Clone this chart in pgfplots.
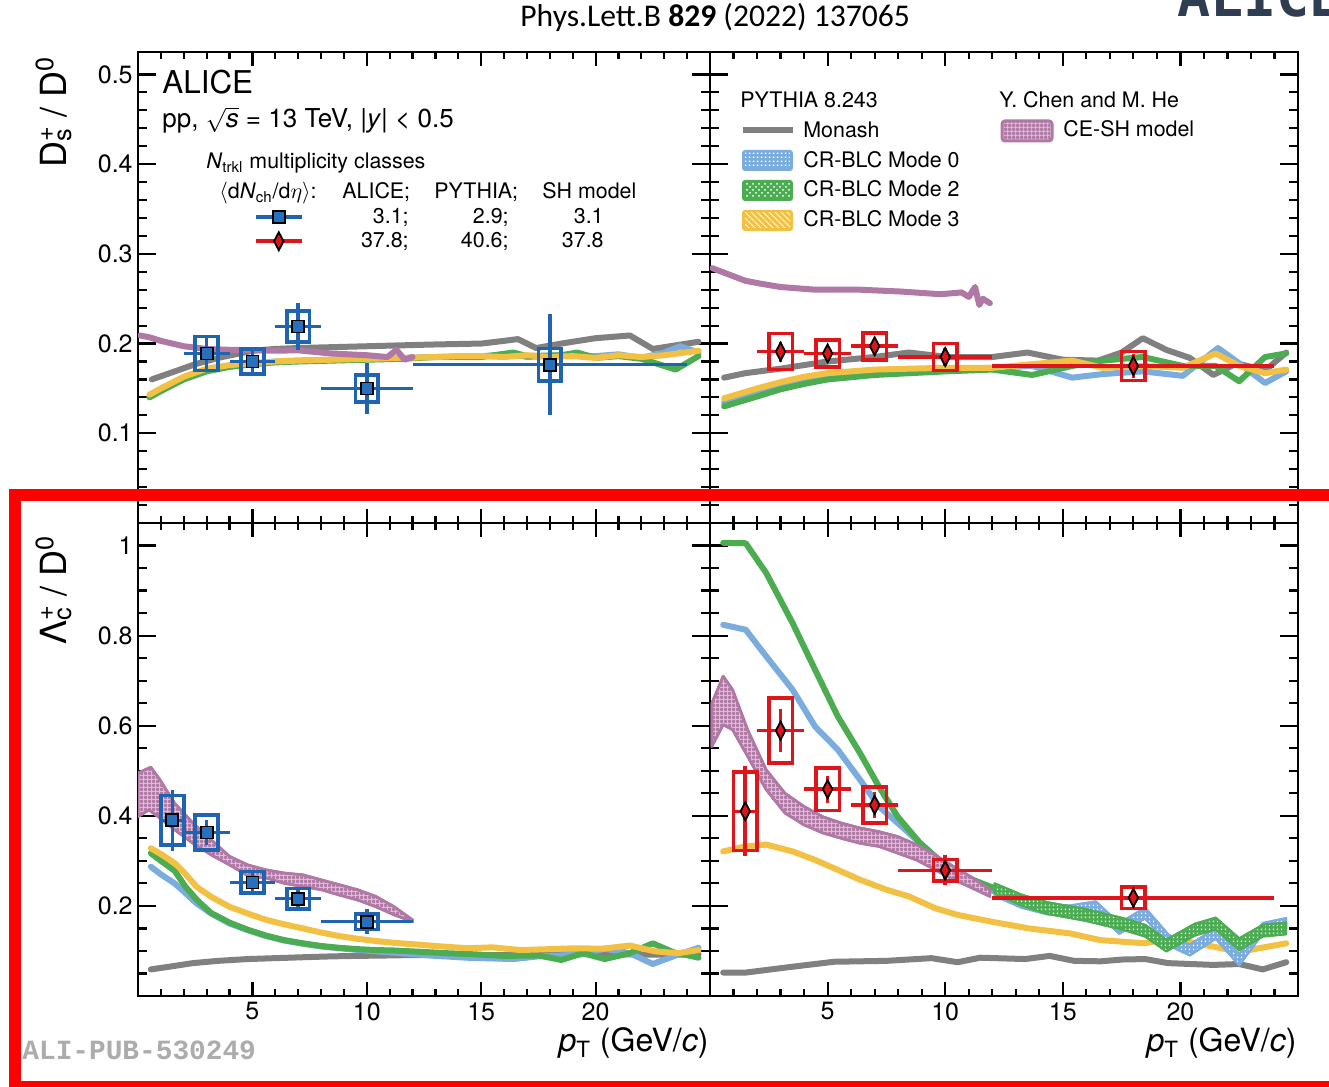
\documentclass[border=0pt]{standalone}
\usepackage{pgfplots}
\pgfplotsset{compat=1.18}
\usepackage{fontspec}
\setmainfont{TeX Gyre Heros}
\newfontfamily\journalfont{Carlito}
\newfontfamily\pubfont{Liberation Mono}
\newfontfamily\logofont{DejaVu Sans Mono}
\usetikzlibrary{patterns,patterns.meta}

\definecolor{alblue}{RGB}{30,100,176}
\definecolor{albluefill}{RGB}{38,112,190}
\definecolor{alred}{RGB}{222,22,28}
\definecolor{monash}{RGB}{128,128,128}
\definecolor{modezero}{RGB}{122,172,222}
\definecolor{modetwo}{RGB}{76,172,82}
\definecolor{modethree}{RGB}{242,192,66}
\definecolor{cesh}{RGB}{176,120,165}
\definecolor{logogray}{RGB}{46,62,80}
\definecolor{pubgray}{RGB}{172,172,172}
\definecolor{framered}{RGB}{255,0,0}

% fine meshes for the model bands and legend patches
\tikzdeclarepattern{
  name=mesh, type=uncolored,
  bottom left={(0pt,0pt)}, top right={(2pt,2pt)}, tile size={(2pt,2pt)},
  code={\draw[line width=1.15pt] (0pt,1pt) -- (2pt,1pt) (1pt,0pt) -- (1pt,2pt);}
}
\tikzdeclarepattern{
  name=dotgrid, type=uncolored,
  bottom left={(0pt,0pt)}, top right={(2pt,2pt)}, tile size={(2pt,2pt)},
  code={\fill (0.6pt,0.6pt) rectangle (1.4pt,1.4pt);}
}

% systematic-uncertainty box: [colour]{xlo}{xhi}{ylo}{yhi}
\newcommand{\sysbox}[5][alblue]{%
  \addplot[#1, line width=1.8pt, line join=miter, forget plot]
    coordinates {(#2,#4) (#3,#4) (#3,#5) (#2,#5)} -- cycle;}

\pgfplotsset{
  panel/.style={
    scale only axis, anchor=south west,
    xmin=0, xmax=25, ymin=0,
    xtick={0,5,10,15,20,25}, minor x tick num=4,
    tick align=inside,
    axis line style={line width=1.1pt},
    tick style={black, line width=1.1pt},
    major tick length=9pt, minor tick length=4.5pt,
    xtick style={/pgfplots/major tick length=7pt, /pgfplots/minor tick length=3.5pt},
    tick label style={font=\fontsize{12.5}{14}\selectfont, inner sep=0pt},
    xticklabel style={yshift=-3pt},
    yticklabel style={xshift=-2.5pt},
    /pgf/number format/assume math mode=true,
  },
  top panel/.style={panel, height=235.5pt, ymax=0.525,
    ytick={0,0.1,0.2,0.3,0.4,0.5}, minor y tick num=4,
    xticklabels={,,,,,}},
  bottom panel/.style={panel, height=236.5pt, ymax=1.05,
    ytick={0,0.2,0.4,0.6,0.8,1}, minor y tick num=3,
    xticklabels={,5,10,15,20,}},
  model/.style={line width=3pt, line join=round, line cap=round, no marks, forget plot},
  band/.style={draw=cesh, fill=cesh!45!white, line width=1.3pt, line join=round,
    postaction={pattern=mesh, pattern color=cesh}, no marks, forget plot},
  crband/.style={draw=#1, fill=#1, line width=1pt, line join=round,
    postaction={pattern=dotgrid, pattern color=white}, no marks, forget plot},
  bluepts/.style={alblue, only marks, mark=square*, mark size=3pt,
    mark options={fill=albluefill, draw=black, line width=0.9pt}, forget plot,
    error bars/.cd, x dir=both, x explicit, y dir=both, y explicit,
    error mark=none, error bar style={line width=1.8pt, alblue}},
  redpts/.style={alred, only marks, mark=diamond*, mark size=4.5pt,
    mark options={xscale=0.7, fill=alred, draw=black, line width=0.9pt}, forget plot,
    error bars/.cd, x dir=both, x explicit, y dir=both, y explicit,
    error mark=none, error bar style={line width=1.8pt, alred}},
}

\begin{document}
\begin{tikzpicture}[x=0.5pt, y=0.5pt]

%==================== Ds/D0, low multiplicity ====================
\begin{axis}[top panel, at={(69pt,282pt)}, width=286pt,
  yticklabels={,0.1,0.2,0.3,0.4,0.5},
  legend style={at={(0.2028,0.6688)}, anchor=north west, draw=none, fill=none,
    inner sep=0pt, outer sep=0pt, row sep=3pt,
    font=\fontsize{10.7}{12}\selectfont, nodes={inner sep=0pt},
    /tikz/every odd column/.append style={column sep=3.5pt}},
  legend cell align=left,
  legend image code/.code={\draw[mark repeat=2, mark phase=2, #1]
    plot coordinates {(0pt,0pt) (11.5pt,0pt) (23pt,0pt)};}]
\addplot[model, monash] coordinates {(0.6,0.160)(1.5,0.168)(2.5,0.177)(3.5,0.184)(5,0.192)(6,0.194)(7,0.195)(8.5,0.196)(10,0.197)(11.5,0.198)(13,0.199)(15,0.200)(16,0.203)(16.6,0.205)(17.4,0.195)(18.5,0.200)(20,0.206)(21.5,0.209)(22.5,0.194)(23.5,0.198)(24.5,0.202)};
\addplot[model, modezero] coordinates {(0.5,0.141)(1,0.148)(2,0.161)(3,0.170)(4,0.175)(5,0.178)(6,0.180)(7,0.181)(8.5,0.182)(10,0.183)(11.5,0.184)(13,0.185)(15,0.186)(16.4,0.188)(17,0.185)(18.5,0.187)(20,0.186)(21,0.188)(22,0.184)(23,0.190)(23.7,0.197)(24.5,0.190)};
\addplot[model, modetwo] coordinates {(0.5,0.140)(1,0.147)(2,0.160)(3,0.169)(4,0.174)(5,0.177)(6,0.179)(7,0.180)(8.5,0.181)(10,0.182)(11.5,0.183)(13,0.185)(15,0.185)(16.4,0.190)(17,0.186)(18.5,0.187)(19.2,0.190)(20,0.184)(21,0.186)(22,0.183)(23.5,0.171)(24.5,0.186)};
\addplot[model, modethree] coordinates {(0.5,0.143)(1,0.150)(2,0.163)(3,0.172)(4,0.176)(5,0.178)(6,0.180)(7,0.181)(8.5,0.182)(10,0.183)(11.5,0.184)(13,0.185)(14,0.186)(15,0.186)(16,0.185)(17,0.187)(18,0.185)(19,0.186)(20,0.184)(21,0.187)(22,0.185)(23,0.187)(24.5,0.192)};
\addplot[model, cesh] coordinates {(0.1,0.209)(0.5,0.207)(1,0.203)(2,0.197)(3,0.194)(4,0.193)(5,0.1925)(6,0.192)(7,0.1925)(8.4,0.189)(10,0.187)(10.9,0.185)(11.3,0.193)(11.65,0.182)(12,0.185)};
\sysbox{2.5}{3.5}{0.170}{0.208}
\sysbox{4.5}{5.5}{0.166}{0.194}
\sysbox{6.5}{7.5}{0.202}{0.236}
\sysbox{9.5}{10.5}{0.135}{0.165}
\sysbox{17.5}{18.5}{0.1585}{0.1945}
\addplot[bluepts] table[x=x, y=y, x error=ex, y error=ey] {
x    y      ex  ey
3    0.189  1   0.019
5    0.180  1   0.012
7    0.219  1   0.026
10   0.150  2   0.028
18   0.1765 6   0.056
};
\addlegendimage{alblue, line width=1.8pt, mark=square*, mark size=3pt,
  mark options={fill=albluefill, draw=black, line width=0.9pt}}
\addlegendentry{\makebox[49pt][r]{3.1;}\makebox[50pt][r]{2.9;}\makebox[47.5pt][r]{3.1}}
\addlegendimage{alred, line width=1.8pt, mark=diamond*, mark size=4.5pt,
  mark options={xscale=0.7, fill=alred, draw=black, line width=0.9pt}}
\addlegendentry{\makebox[49pt][r]{37.8;}\makebox[50pt][r]{40.6;}\makebox[47.5pt][r]{37.8}}
\end{axis}

%==================== Ds/D0, high multiplicity ====================
\begin{axis}[top panel, at={(355pt,282pt)}, width=294pt,
  yticklabels={,,,,,}]
\addplot[model, monash] coordinates {(0.6,0.162)(1.5,0.167)(3,0.172)(5,0.180)(7,0.185)(8.45,0.190)(10.1,0.185)(12,0.185)(13.5,0.190)(15,0.182)(16.5,0.181)(17.5,0.190)(18.4,0.206)(19.4,0.193)(20.4,0.184)(21.4,0.165)(22.4,0.178)(23.6,0.170)(24.5,0.190)};
\addplot[model, modezero] coordinates {(0.6,0.134)(2,0.145)(3,0.152)(4,0.159)(5,0.165)(7,0.170)(10,0.171)(12,0.173)(13.7,0.175)(15.4,0.162)(16.7,0.166)(18.4,0.169)(20.1,0.164)(21.6,0.195)(22.5,0.178)(23.6,0.156)(24.5,0.169)};
\addplot[model, modetwo] coordinates {(0.6,0.130)(2,0.141)(3,0.149)(4,0.155)(5,0.160)(7,0.165)(10,0.169)(12,0.171)(13.7,0.165)(15.4,0.175)(16.7,0.181)(18.4,0.185)(20.1,0.175)(21.5,0.175)(22.5,0.158)(23.6,0.185)(24.5,0.189)};
\addplot[model, modethree] coordinates {(0.6,0.139)(2,0.150)(3,0.157)(4,0.163)(5,0.167)(7,0.171)(10,0.173)(12,0.173)(13.7,0.177)(15.4,0.181)(16.7,0.173)(18.4,0.175)(20.1,0.173)(21.5,0.189)(22.5,0.175)(23.6,0.167)(24.5,0.171)};
\addplot[model, cesh] coordinates {(0.1,0.284)(0.5,0.280)(1.5,0.270)(2.1,0.267)(3,0.263)(4.5,0.260)(6.4,0.260)(8.1,0.258)(9.8,0.255)(10.7,0.257)(11.0,0.252)(11.27,0.263)(11.45,0.243)(11.6,0.250)(11.9,0.245)};
\sysbox[alred]{2.5}{3.5}{0.171}{0.211}
\sysbox[alred]{4.5}{5.5}{0.174}{0.204}
\sysbox[alred]{6.5}{7.5}{0.182}{0.212}
\sysbox[alred]{9.5}{10.5}{0.170}{0.200}
\sysbox[alred]{17.5}{18.5}{0.159}{0.191}
\addplot[redpts] table[x=x, y=y, x error=ex, y error=ey] {
x    y      ex  ey
3    0.191  1   0.011
5    0.189  1   0.009
7    0.197  1   0.009
10   0.185  2   0.010
18   0.175  6   0.013
};
\end{axis}

%==================== Lc/D0, low multiplicity ====================
\begin{axis}[bottom panel, at={(69pt,45.5pt)}, width=286pt,
  yticklabels={,0.2,0.4,0.6,0.8,1}]
\addplot[model, monash] coordinates {(0.56,0.059)(1.5,0.066)(2.4,0.073)(3.5,0.078)(4.8,0.082)(6,0.084)(7.2,0.086)(8.5,0.088)(9.6,0.089)(11,0.090)(12.1,0.091)(14,0.091)(16,0.091)(18,0.092)(20,0.093)(22,0.092)(24.5,0.092)};
\addplot[model, modezero] coordinates {(0.56,0.287)(1.0,0.270)(1.6,0.250)(2.0,0.232)(2.55,0.206)(3.2,0.183)(4.0,0.161)(4.8,0.146)(5.6,0.133)(6.4,0.123)(7.2,0.116)(8.0,0.110)(9.2,0.104)(10.4,0.099)(11.5,0.095)(12.75,0.090)(14.35,0.085)(16.4,0.082)(17.5,0.088)(18.5,0.090)(19.5,0.094)(20.4,0.105)(21.5,0.095)(22.5,0.071)(23.5,0.090)(24.5,0.107)};
\addplot[model, modetwo] coordinates {(0.56,0.317)(1.0,0.300)(1.6,0.278)(2.07,0.243)(2.6,0.212)(3.2,0.184)(4.0,0.163)(4.8,0.147)(5.6,0.134)(6.4,0.124)(7.2,0.117)(8.0,0.111)(8.8,0.107)(9.6,0.104)(10.4,0.102)(11.2,0.101)(12.4,0.098)(13.5,0.095)(14.5,0.093)(16,0.089)(17.5,0.090)(18.5,0.080)(19.45,0.095)(20.4,0.082)(21.5,0.095)(22.5,0.117)(23.4,0.097)(24.5,0.085)};
\addplot[model, modethree] coordinates {(0.56,0.328)(1.0,0.315)(1.6,0.295)(2.0,0.275)(2.55,0.243)(3.2,0.220)(4.0,0.198)(4.8,0.183)(5.6,0.169)(6.4,0.159)(7.2,0.150)(8.0,0.141)(8.8,0.133)(9.6,0.127)(10.4,0.122)(11.2,0.118)(12,0.115)(13,0.111)(14.4,0.106)(15.5,0.108)(16.7,0.102)(18,0.104)(19.1,0.106)(20.3,0.105)(21.5,0.112)(22.6,0.099)(23.6,0.095)(24.5,0.102)};
\addplot[band] coordinates {(0,0.495)(0.56,0.508)(0.96,0.48)(1.6,0.428)(2.4,0.384)(3.2,0.347)(4.0,0.31)(4.8,0.291)(5.6,0.28)(6.4,0.273)(7.2,0.269)(8.0,0.258)(8.8,0.247)(9.6,0.236)(10.4,0.221)(11.2,0.198)(12,0.169)
  (12,0.165)(11.2,0.18)(10.4,0.198)(9.6,0.213)(8.8,0.224)(8.0,0.236)(7.2,0.243)(6.4,0.25)(5.6,0.262)(4.8,0.267)(4.0,0.291)(3.2,0.313)(2.4,0.339)(1.6,0.369)(0.96,0.395)(0.48,0.413)(0,0.398)} -- cycle;
\sysbox{1.0}{2.0}{0.335}{0.445}
\sysbox{2.5}{3.5}{0.324}{0.402}
\sysbox{4.5}{5.5}{0.228}{0.276}
\sysbox{6.5}{7.5}{0.193}{0.239}
\sysbox{9.5}{10.5}{0.148}{0.182}
\addplot[bluepts] table[x=x, y=y, x error=ex, y error=ey] {
x    y      ex   ey
1.5  0.390  0.5  0.068
3    0.363  1    0.028
5    0.252  1    0.020
7    0.216  1    0.022
10   0.165  2    0.028
};
\end{axis}

%==================== Lc/D0, high multiplicity ====================
\begin{axis}[bottom panel, at={(355pt,45.5pt)}, width=294pt,
  yticklabels={,,,,,}]
\addplot[model, monash] coordinates {(0.56,0.052)(1.52,0.052)(3.51,0.065)(5.27,0.076)(7.5,0.078)(9.41,0.084)(10.53,0.075)(11.49,0.085)(13.4,0.082)(14.44,0.089)(15.48,0.078)(16.6,0.077)(17.55,0.081)(18.5,0.082)(19.47,0.073)(21.4,0.069)(22.5,0.071)(23.5,0.059)(24.5,0.075)};
\addplot[model, modethree] coordinates {(0.56,0.321)(1.52,0.332)(2.39,0.336)(3.51,0.321)(4.47,0.302)(5.43,0.280)(6.38,0.258)(7.5,0.236)(8.46,0.221)(9.57,0.195)(10.53,0.180)(11.97,0.165)(13.56,0.150)(15.3,0.139)(16.6,0.124)(18.5,0.117)(19.5,0.128)(20.7,0.117)(22.5,0.098)(24.5,0.117)};
\addplot[model, modezero] coordinates {(0.56,0.824)(1.52,0.813)(2.39,0.754)(3.51,0.68)(4.47,0.598)(5.43,0.547)(6.38,0.48)(7.18,0.421)(7.98,0.384)(8.94,0.339)(9.89,0.295)(11.17,0.25)(12.1,0.232)};
\addplot[model, modetwo] coordinates {(0.56,1.006)(1.52,1.005)(2.39,0.939)(3.51,0.828)(4.47,0.724)(5.43,0.621)(6.38,0.539)(7.18,0.465)(7.98,0.398)(8.94,0.339)(9.89,0.295)(11.17,0.258)(12.1,0.239)};
% wider model bands at high pT
\addplot[crband=modezero] coordinates {(12.1,0.242)(13.24,0.216)(14.36,0.201)(15.3,0.201)(16.4,0.210)(17.4,0.162)(18.5,0.196)(19.5,0.136)(20.4,0.114)(21.5,0.151)(22.5,0.092)(23.5,0.162)(24.5,0.173)
  (24.5,0.149)(23.5,0.138)(22.5,0.068)(21.5,0.127)(20.4,0.090)(19.5,0.112)(18.5,0.172)(17.4,0.138)(16.4,0.186)(15.3,0.181)(14.36,0.181)(13.24,0.196)(12.1,0.222)} -- cycle;
\addplot[crband=modetwo] coordinates {(12.1,0.250)(13.24,0.225)(14.36,0.208)(15.96,0.193)(17.55,0.173)(18.5,0.158)(19.4,0.125)(20.6,0.160)(21.5,0.174)(22.5,0.128)(23.5,0.158)(24.5,0.163)
  (24.5,0.137)(23.5,0.132)(22.5,0.102)(21.5,0.148)(20.6,0.134)(19.4,0.099)(18.5,0.132)(17.55,0.147)(15.96,0.167)(14.36,0.182)(13.24,0.201)(12.1,0.228)} -- cycle;
\addplot[band] coordinates {(0.08,0.65)(0.56,0.71)(0.96,0.68)(1.6,0.591)(2.39,0.502)(3.19,0.45)(3.99,0.421)(4.79,0.398)(5.58,0.384)(6.38,0.373)(7.18,0.365)(7.98,0.354)(8.78,0.336)(9.57,0.313)(10.37,0.287)(11.17,0.262)(11.9,0.236)
  (11.9,0.221)(11.17,0.239)(10.37,0.258)(9.57,0.28)(8.78,0.302)(7.98,0.317)(7.18,0.332)(6.38,0.339)(5.58,0.35)(4.79,0.362)(3.99,0.38)(3.19,0.406)(2.39,0.458)(1.6,0.532)(0.96,0.591)(0.56,0.602)(0.08,0.554)} -- cycle;
\sysbox[alred]{1.0}{2.0}{0.323}{0.497}
\sysbox[alred]{2.5}{3.5}{0.517}{0.661}
\sysbox[alred]{4.5}{5.5}{0.412}{0.506}
\sysbox[alred]{6.5}{7.5}{0.384}{0.464}
\sysbox[alred]{9.5}{10.5}{0.255}{0.303}
\sysbox[alred]{17.5}{18.5}{0.194}{0.242}
\addplot[redpts] table[x=x, y=y, x error=ex, y error=ey] {
x    y      ex   ey
1.5  0.410  0.5  0.100
3    0.589  1    0.047
5    0.459  1    0.030
7    0.424  1    0.029
10   0.279  2    0.033
18   0.218  6    0.028
};
\end{axis}

%==================== annotation frame ====================
\draw[framered, line width=6pt] (15,0) rectangle (1345,592);

%==================== texts ====================
\node[anchor=base west, inner sep=0pt] at (520,1060)
  {\journalfont\fontsize{15.8}{18}\selectfont Phys.Lett.B \textbf{829} (2022) 137065};
\node[anchor=base west, inner sep=0pt, text=logogray] at (1177,1070)
  {\logofont\bfseries\fontsize{27.5}{30}\selectfont ALICE};

\node[anchor=base west, inner sep=0pt] at (162,993) {\fontsize{15.7}{18}\selectfont ALICE};
\node[anchor=base west, inner sep=0pt] at (162,959)
  {\fontsize{13}{14}\selectfont pp, $\smash{\sqrt{\mbox{\textit{s}}}}$ = 13 TeV, |\textit{y}| < 0.5};
\node[anchor=base west, inner sep=0pt] at (206,918)
  {\fontsize{10.7}{12}\selectfont \textit{N}\textsubscript{trkl} multiplicity classes};
\node[anchor=base west, inner sep=0pt] at (219,888)
  {\fontsize{10.7}{12}\selectfont $\langle$d\textit{N}\textsubscript{ch}/d$\eta\rangle$:};
\node[anchor=base west, inner sep=0pt] at (342,888) {\fontsize{10.7}{12}\selectfont ALICE;};
\node[anchor=base west, inner sep=0pt] at (434,888) {\fontsize{10.7}{12}\selectfont PYTHIA;};
\node[anchor=base west, inner sep=0pt] at (542,888) {\fontsize{10.7}{12}\selectfont SH model};

% model legend
\node[anchor=base west, inner sep=0pt] at (740,979) {\fontsize{10.7}{12}\selectfont PYTHIA 8.243};
\draw[monash, line width=3pt] (743,957) -- (793,957);
\node[anchor=base west, inner sep=0pt] at (803,949) {\fontsize{10.7}{12}\selectfont Monash};
\fill[modezero, rounded corners=1.5pt] (742,916) rectangle (793,937);
\fill[pattern=dotgrid, pattern color=white] (745,919) rectangle (790,934);
\node[anchor=base west, inner sep=0pt] at (803,919) {\fontsize{10.7}{12}\selectfont CR-BLC Mode 0};
\fill[modetwo, rounded corners=1.5pt] (742,886) rectangle (793,907);
\fill[pattern=crosshatch dots, pattern color=white] (745,889) rectangle (790,904);
\node[anchor=base west, inner sep=0pt] at (803,890) {\fontsize{10.7}{12}\selectfont CR-BLC Mode 2};
\fill[modethree, rounded corners=1.5pt] (742,856) rectangle (793,877);
\fill[pattern=north west lines, pattern color=white] (745,859) rectangle (790,874);
\node[anchor=base west, inner sep=0pt] at (803,860) {\fontsize{10.7}{12}\selectfont CR-BLC Mode 3};
\node[anchor=base west, inner sep=0pt] at (999,979) {\fontsize{10.7}{12}\selectfont Y. Chen and M. He};
\filldraw[draw=cesh, fill=cesh!45!white, line width=1.5pt, rounded corners=1.5pt] (1002,946) rectangle (1052,966);
\fill[pattern=mesh, pattern color=cesh] (1004,948) rectangle (1050,964);
\node[anchor=base west, inner sep=0pt] at (1063,950) {\fontsize{10.7}{12}\selectfont CE-SH model};

% axis titles
\node[rotate=90, anchor=base, inner sep=0pt] at (66,975)
  {\fontsize{18}{20}\selectfont D\rlap{\textsuperscript{+}}\textsubscript{s} / D\textsuperscript{0}};
\node[rotate=90, anchor=base, inner sep=0pt] at (66,497)
  {\fontsize{18}{20}\selectfont Λ\rlap{\textsuperscript{+}}\textsubscript{c} / D\textsuperscript{0}};
\node[anchor=base east, inner sep=0pt] at (709,35)
  {\fontsize{16}{18}\selectfont \textit{p}\textsubscript{T} (GeV/\textit{c})};
\node[anchor=base east, inner sep=0pt] at (1297,35)
  {\fontsize{16}{18}\selectfont \textit{p}\textsubscript{T} (GeV/\textit{c})};

\node[anchor=base west, inner sep=0pt, text=pubgray] at (22,27)
  {\pubfont\bfseries\fontsize{13.9}{15}\selectfont ALI-PUB-530249};

\pgfresetboundingbox
\path[use as bounding box] (0,0) rectangle (1329,1087);
\end{tikzpicture}
\end{document}
